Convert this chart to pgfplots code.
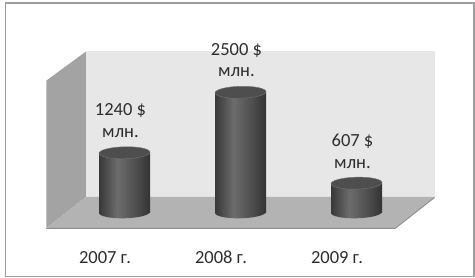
\documentclass[border=0pt]{standalone}
\usepackage{fontspec}
\setmainfont{Carlito}
\usepackage{pgfplots}
\pgfplotsset{compat=1.18}
\definecolor{cA}{HTML}{383838}
\definecolor{cB}{HTML}{6C6C6C}
\definecolor{cC}{HTML}{505050}
\definecolor{cD}{HTML}{333333}
\definecolor{topc}{HTML}{4E4E4E}
\definecolor{wallback}{HTML}{E7E7E7}
\definecolor{wallleft}{HTML}{A3A3A3}
\definecolor{floorc}{HTML}{B3B3B3}
\definecolor{framec}{HTML}{9D9D9D}
\definecolor{txt}{HTML}{2E2E2E}
\pgfdeclarehorizontalshading{cyl}{100bp}{color(0bp)=(cA); color(25bp)=(cA); color(43bp)=(cB); color(60bp)=(cC); color(75bp)=(cD); color(100bp)=(cD)}
\pgfdeclareplotmark{cylbot}{%
  \pgfpathellipse{\pgfpointorigin}{\pgfqpoint{25.5bp}{0.6bp}}{\pgfqpoint{-0.1bp}{6bp}}%
  \pgfshadepath{cyl}{0}\pgfusepath{discard}}
\pgfdeclareplotmark{cyltop}{%
  \pgfpathellipse{\pgfpointorigin}{\pgfqpoint{25.5bp}{0.6bp}}{\pgfqpoint{-0.1bp}{6bp}}%
  \pgfusepath{fill,stroke}}
\newcommand{\lblfont}{\fontsize{18.5bp}{21.5bp}\selectfont}
\newcommand{\px}[2]{(rel axis cs:{(#1)/475},{1-(#2)/278})}
\pgfplotsset{cylbody/.style={ybar, bar width=51bp, draw=none, shading=cyl, shading angle=0}}
\begin{document}
\begin{tikzpicture}
\begin{axis}[
  at={(0,0)}, anchor=south west,
  set layers,
  scale only axis, width=475bp, height=278bp,
  xmin=-1.0733, xmax=3.0216, ymin=-1368.75, ymax=4422.9,
  clip=false,
  axis line style={draw=none}, tick style={draw=none},
  ytick=\empty,
  xtick={0,1,2},
  xticklabels={2007 г.,2008 г.,2009 г.},
  xticklabel style={anchor=center, yshift=20.5bp, xshift=-19.5bp, font=\lblfont, text=txt},
]
\begin{pgfonlayer}{axis background}
  \fill[white] \px{0}{0} rectangle \px{475}{278};
  \draw[framec, line width=1.3bp] \px{5.5}{3} rectangle \px{474}{276.5};
  \fill[wallback] \px{86}{51.5} rectangle \px{434.5}{197};
  \fill[wallleft] \px{46.5}{80.5} -- \px{86}{51.5} -- \px{86}{197} -- \px{46.5}{228} -- cycle;
  \fill[floorc] \px{46.5}{228} -- \px{86}{197} -- \px{434.5}{197} -- \px{395}{228} -- cycle;
  \draw[framec!90!black, line width=1bp] \px{46.5}{228.5} -- \px{395}{228.5} -- \px{434.5}{197.5};
\end{pgfonlayer}
% bottom ellipses of the cylinders
\addplot[on layer=axis grid, only marks, mark=cylbot] coordinates {(0,0) (1,0) (2,0)};
% cylinder bodies, one path each so that each is shaded on its own
\addplot[cylbody] coordinates {(0,1240)};
\addplot[cylbody] coordinates {(1,2500)};
\addplot[cylbody] coordinates {(2,607)};
% top faces with value labels
\addplot[on layer=axis foreground, only marks, mark=cyltop,
  mark options={fill=topc, draw=cC!80!white, line width=0.4bp},
  nodes near coords={\pgfmathprintnumber[1000 sep={}, assume math mode=true]{\pgfplotspointmeta}~\$\\млн.},
  every node near coord/.append style={align=center, anchor=center, yshift=32bp, xshift=-4bp, font=\lblfont, text=txt, inner sep=0pt},
] coordinates {(0,1240) (1,2500) (2,607)};
\end{axis}
\end{tikzpicture}
\end{document}
